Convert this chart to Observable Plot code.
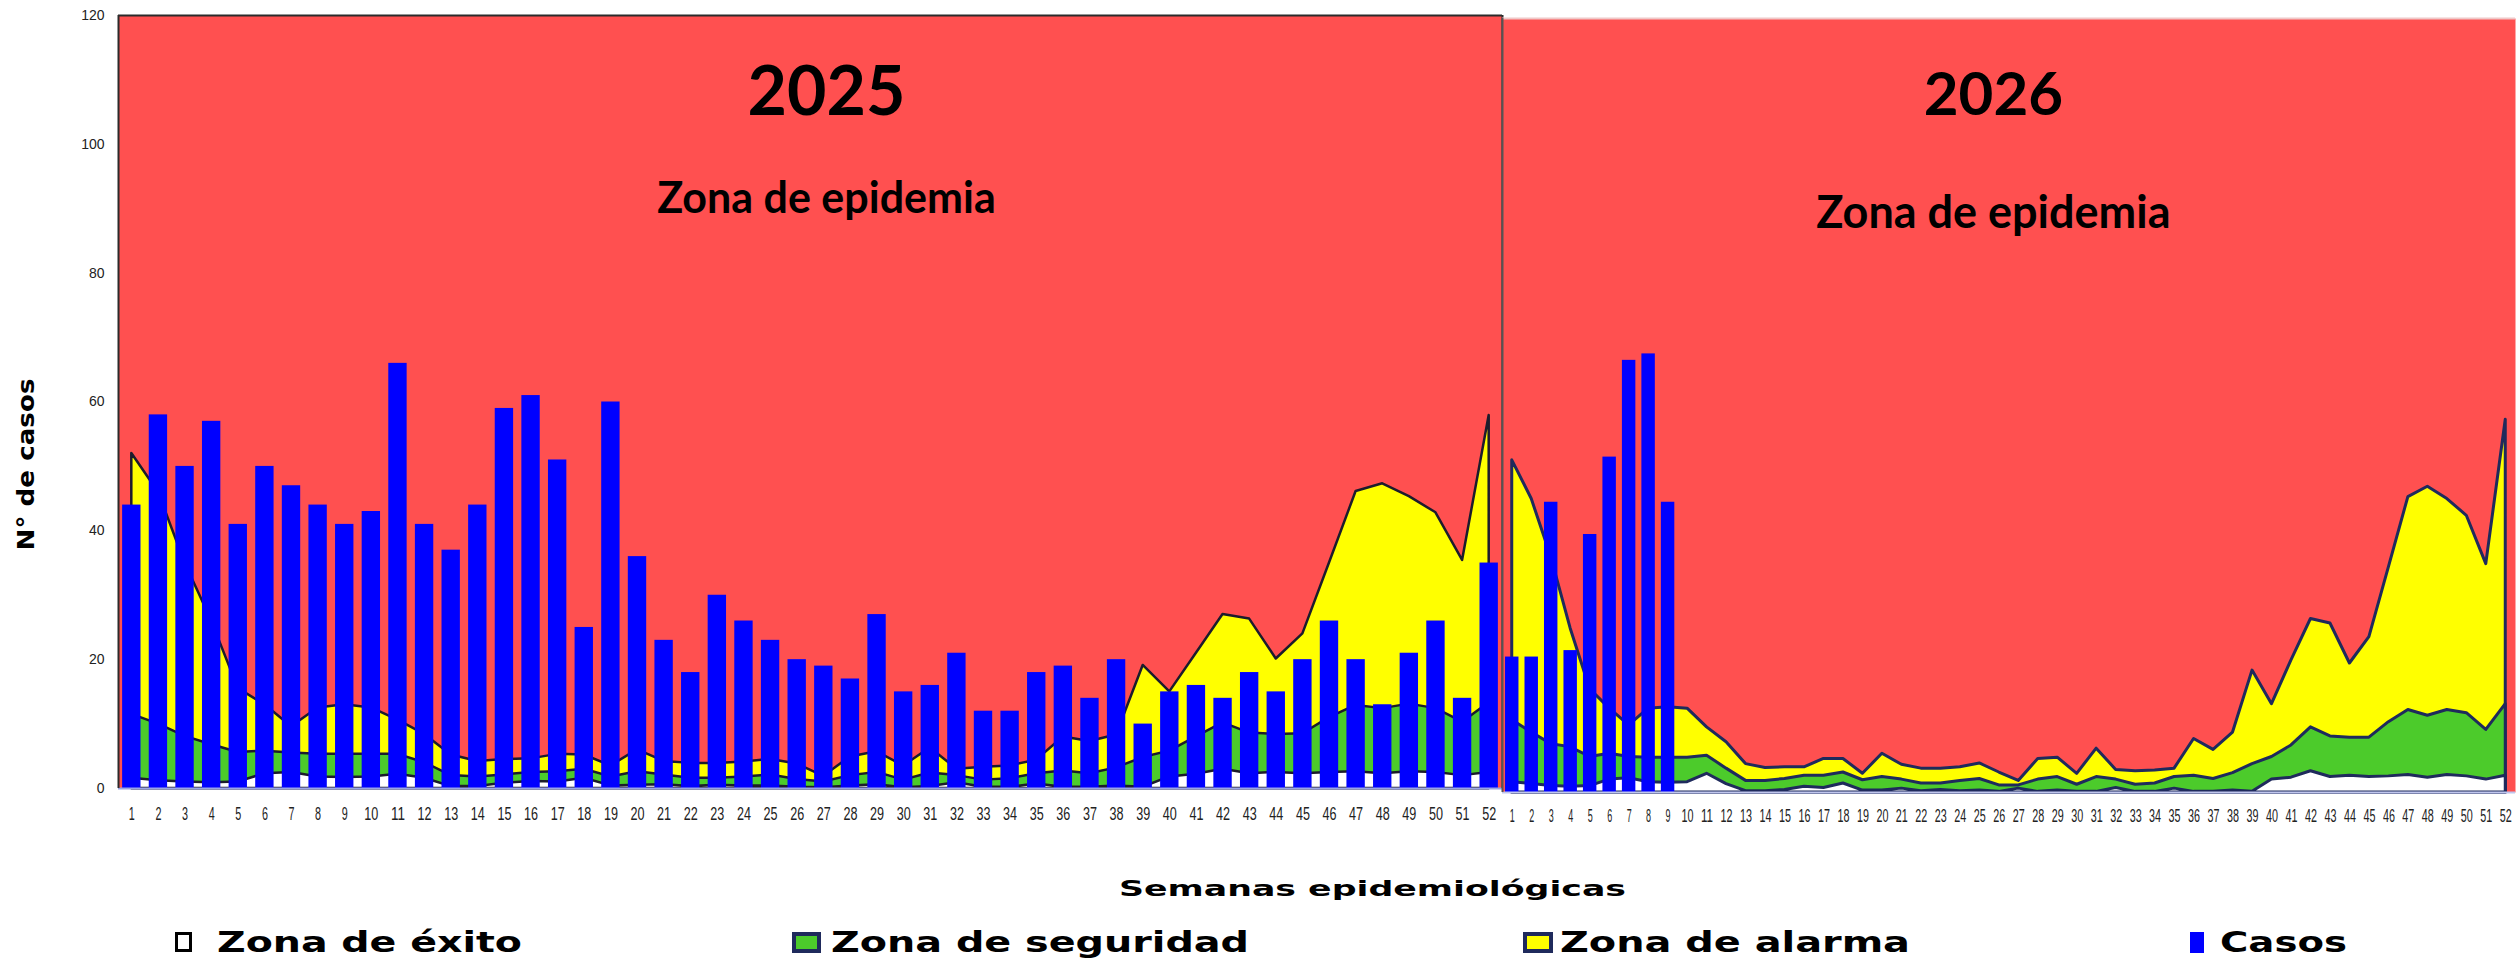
<!DOCTYPE html>
<html>
<head>
<meta charset="utf-8">
<script src="https://cdn.jsdelivr.net/npm/d3@7"></script>
<script src="https://cdn.jsdelivr.net/npm/@observablehq/plot@0.6"></script>
<style>
  html, body { margin: 0; padding: 0; background: #fff; }
  #wrap { position: relative; width: 2517px; height: 958px; overflow: hidden; background: #fff; }
  .panel { position: absolute; top: 0; }
  .panel svg { display: block; max-width: none; }
  .lbl { position: absolute; white-space: nowrap; font-family: "DejaVu Sans", Verdana, sans-serif; font-weight: bold; color: #000; line-height: 1; }
  .box { position: absolute; box-sizing: border-box; }
</style>
</head>
<body>
<div id="wrap"></div>
<script>
// ---------- Data ----------
const semanas = d3.range(1, 53);
const yTicks = [0, 20, 40, 60, 80, 100, 120];

const casos2025 = [44,58,50,57,41,50,47,44,41,43,66,41,37,44,59,61,51,25,60,36,23,18,30,26,23,20,19,17,27,15,16,21,12,12,18,19,14,20,10,15,16,14,18,15,20,26,20,13,21,26,14,35];
const casos2026 = [21,21,45,22,40,52,67,68,45];

const alarma2025 = [52,46,35,26,15.5,13,9.6,12.5,13,12.5,10.6,8.4,5.2,4.2,4.5,4.6,5.3,5.2,3.5,6.0,4.2,3.9,3.9,4.1,4.5,3.8,1.9,4.9,5.7,3.5,6.3,3.0,3.3,3.5,4.4,8.0,7.3,8.3,19.1,15,21,27,26.3,20.1,24,35,46.1,47.3,45.3,42.8,35.4,57.9];
const seguridad2025 = [11.5,10,8.1,6.8,5.6,5.8,5.5,5.3,5.3,5.3,5.3,4.0,2.0,1.8,2.1,2.5,2.6,3.0,1.8,2.6,2.1,1.6,1.6,1.8,2.1,1.4,1.0,2.0,2.5,1.3,2.4,2.0,1.3,1.5,2.3,2.7,2.3,3.2,4.8,5.8,8.0,10.2,8.6,8.4,8.5,11,12.9,12.4,13.1,12.4,10.3,13.3];
const exito2025 = [1.6,1.2,1.0,0.9,1.0,2.3,2.5,1.8,1.7,1.8,2.2,1.6,0.3,0.3,0.8,1.1,1.0,1.6,0.4,0.5,0.6,0.3,0.5,0.4,0.4,0.2,0.1,0.4,0.6,0.1,0.3,0.9,0.2,0.2,0.7,0.2,0.2,0.4,0.2,1.8,2.2,3.0,2.3,2.5,2.3,2.5,2.6,2.3,2.6,2.5,2.0,2.5];

const alarma2026 = [51.5,45.5,36.5,25.4,16,13,10.4,13,13.2,13,10.1,7.8,4.4,3.8,3.9,3.9,5.2,5.2,2.9,6.0,4.3,3.7,3.7,3.9,4.5,3.1,1.8,5.2,5.4,2.9,6.8,3.5,3.3,3.4,3.7,8.3,6.6,9.3,18.9,13.7,20.5,26.9,26.2,20.0,24.1,34.9,45.8,47.4,45.5,42.9,35.4,57.8];
const seguridad2026 = [11.2,9.3,7.5,7.0,5.5,6.0,5.5,5.4,5.4,5.4,5.7,3.7,1.8,1.8,2.1,2.6,2.6,3.1,1.9,2.4,2.0,1.4,1.4,1.8,2.1,1.1,1.1,2.0,2.4,1.2,2.4,2.0,1.2,1.4,2.4,2.6,2.1,3.0,4.4,5.5,7.3,10.1,8.7,8.5,8.5,10.9,12.8,11.9,12.8,12.3,9.7,13.7];
const exito2026 = [1.6,1.3,1.0,0.9,1.0,2.0,2.2,1.6,1.5,1.6,2.9,1.3,0.2,0.2,0.4,0.9,0.7,1.4,0.3,0.3,0.6,0.2,0.4,0.2,0.3,0.1,0.6,0.1,0.3,0.1,0.1,0.7,0.1,0.1,0.6,0.1,0.1,0.3,0.1,2.0,2.3,3.3,2.4,2.6,2.4,2.5,2.7,2.3,2.7,2.5,2.0,2.6];

const anios = ["2025", "2026"];
const zonaTexto = "Zona de epidemia";
const leyenda = ["Zona de éxito", "Zona de seguridad", "Zona de alarma", "Casos"];
const tituloX = "Semanas epidemiológicas";
const tituloY = "N° de casos";

// ---------- Styles ----------
const RED = "#ff5050", YELLOW = "#ffff00", GREEN = "#4ccb2b", BLUE = "#0000ff";
const tickFont = '"Liberation Sans", Arial, sans-serif';
const titleFont = 'Lato, "Open Sans", sans-serif';

function canal(alarma, seguridad, exito) {
  return semanas.map((s, i) => ({semana: s, alarma: alarma[i], seguridad: seguridad[i], exito: exito[i]}));
}
function barras(casos) {
  return casos.map((c, i) => ({semana: semanas[i], casos: c}));
}

function panel({canalData, barData, width, marginLeft, marginRight, marginTop, marginBottom, lineColor, lineWidth, withYAxis, tickPad, anio, anioSize, zonaSize, xLabel, yAnio, yZona, leftRule, leftRuleColor, topRuleColor, baseColor}) {
  const marks = [
    Plot.frame({fill: RED}),
    Plot.areaY(canalData, {x: "semana", y: "alarma", fill: YELLOW, stroke: lineColor, strokeWidth: lineWidth}),
    Plot.areaY(canalData, {x: "semana", y: "seguridad", fill: GREEN, stroke: lineColor, strokeWidth: lineWidth}),
    Plot.areaY(canalData, {x: "semana", y: "exito", fill: "white", stroke: lineColor, strokeWidth: lineWidth}),
    Plot.rectY(barData, {x1: d => d.semana - 0.345, x2: d => d.semana + 0.345, y: "casos", fill: BLUE}),
    Plot.ruleY([0], {stroke: baseColor, strokeWidth: 2}),
    Plot.ruleY([120], {stroke: topRuleColor, strokeWidth: 2}),
    Plot.ruleX([0.5], {stroke: leftRuleColor, strokeWidth: leftRule}),
    Plot.axisX(semanas, {tickSize: 0, tickPadding: tickPad, fontSize: 18, fontFamily: tickFont, fill: "#222", label: null}),
    Plot.text([anio], {x: xLabel, y: yAnio, text: d => d, fontSize: anioSize, fontWeight: "bold", fontFamily: titleFont, fill: "#000", ariaLabel: "anio"}),
    Plot.text([zonaTexto], {x: xLabel, y: yZona, text: d => d, fontSize: zonaSize, fontWeight: "bold", fontFamily: titleFont, fill: "#000", ariaLabel: "zona"})
  ];
  if (withYAxis) {
    marks.push(Plot.ruleX([52.5], {stroke: "#2b2b2b", strokeWidth: 2}));
    marks.push(Plot.axisY(yTicks, {tickSize: 0, tickPadding: 14, fontSize: 14, fontFamily: tickFont, fill: "#222", label: null}));
  }
  return Plot.plot({
    width, height: 840,
    marginLeft, marginRight, marginTop, marginBottom,
    x: {domain: [0.5, 52.5], label: null},
    y: {domain: [0, 120], label: null, axis: withYAxis ? undefined : null},
    style: {background: "transparent", fontFamily: tickFont, overflow: "visible"},
    marks
  });
}

const chartA = panel({
  canalData: canal(alarma2025, seguridad2025, exito2025), barData: barras(casos2025),
  width: 1502, marginLeft: 118, marginRight: 0, marginTop: 15, marginBottom: 52,
  lineColor: "#1c1c2c", lineWidth: 2.5, withYAxis: true, tickPad: 19,
  anio: anios[0], anioSize: 68, zonaSize: 43, xLabel: 27.1, yAnio: 108, yZona: 91.4,
  leftRule: 2, leftRuleColor: "#2b2b2b", topRuleColor: "#2b2b2b", baseColor: "#9aa4e6"
});
const chartB = panel({
  canalData: canal(alarma2026, seguridad2026, exito2026), barData: barras(casos2026),
  width: 1015, marginLeft: 0, marginRight: 2, marginTop: 18, marginBottom: 48,
  lineColor: "#1f2a5c", lineWidth: 3, withYAxis: false, tickPad: 17,
  anio: anios[1], anioSize: 60, zonaSize: 45, xLabel: 25.7, yAnio: 108, yZona: 89.8,
  leftRule: 2, leftRuleColor: "#555", topRuleColor: "#f0c8c8", baseColor: "#c0c6ee"
});

function ajustar(svg, selector, len) {
  svg.querySelectorAll(selector).forEach(t => {
    const L = typeof len === "function" ? len(t) : len;
    t.setAttribute("textLength", L);
    t.setAttribute("lengthAdjust", "spacingAndGlyphs");
  });
}
ajustar(chartA, '[aria-label="anio"] text', 108);
ajustar(chartA, '[aria-label="zona"] text', 353);
ajustar(chartB, '[aria-label="anio"] text', 86);
ajustar(chartB, '[aria-label="zona"] text', 235);
ajustar(chartA, '[aria-label="x-axis tick label"] text', t => t.textContent.trim().length === 1 ? 6 : 14);
ajustar(chartB, '[aria-label="x-axis tick label"] text', t => t.textContent.trim().length === 1 ? 5 : 12);

const wrap = document.getElementById("wrap");
function addPanel(svg, left, width) {
  const d = document.createElement("div");
  d.className = "panel";
  d.style.left = left + "px";
  d.style.width = width + "px";
  d.appendChild(svg);
  wrap.appendChild(d);
}
addPanel(chartA, 0, 1502);
addPanel(chartB, 1502, 1015);

// ---------- Titles & legend (HTML) ----------
function etiqueta(texto, left, cy, size, width) {
  const el = document.createElement("div");
  el.className = "lbl";
  el.textContent = texto;
  el.style.fontSize = size + "px";
  el.style.left = left + "px";
  wrap.appendChild(el);
  const r = el.getBoundingClientRect();
  el.style.top = (cy - r.height / 2) + "px";
  el.style.transformOrigin = "0 50%";
  el.style.transform = `scaleX(${width / r.width})`;
  return el;
}
etiqueta(tituloX, 1119, 889, 22, 507);

const yt = document.createElement("div");
yt.className = "lbl";
yt.textContent = tituloY;
yt.style.fontSize = "23px";
wrap.appendChild(yt);
{
  const r = yt.getBoundingClientRect();
  yt.style.left = (27 - r.width / 2) + "px";
  yt.style.top = (464 - r.height / 2) + "px";
  yt.style.transform = `rotate(-90deg) scaleX(${172 / r.width})`;
}

function caja(left, w, h, cy, bg, border) {
  const b = document.createElement("div");
  b.className = "box";
  b.style.left = left + "px";
  b.style.top = (cy - h / 2) + "px";
  b.style.width = w + "px";
  b.style.height = h + "px";
  b.style.background = bg;
  if (border) b.style.border = border;
  wrap.appendChild(b);
}
const LY = 942;
caja(175, 17, 20, LY, "#fff", "3px solid #000");
etiqueta(leyenda[0], 217, LY, 29, 305);
caja(792, 29, 21, LY, GREEN, "4px solid #1f2a5c");
etiqueta(leyenda[1], 831, LY, 29, 418);
caja(1523, 30, 21, LY, YELLOW, "4px solid #1f2a5c");
etiqueta(leyenda[2], 1560, LY, 29, 350);
caja(2190, 14, 21, LY, BLUE, null);
etiqueta(leyenda[3], 2220, LY, 29, 127);
</script>
</body>
</html>
